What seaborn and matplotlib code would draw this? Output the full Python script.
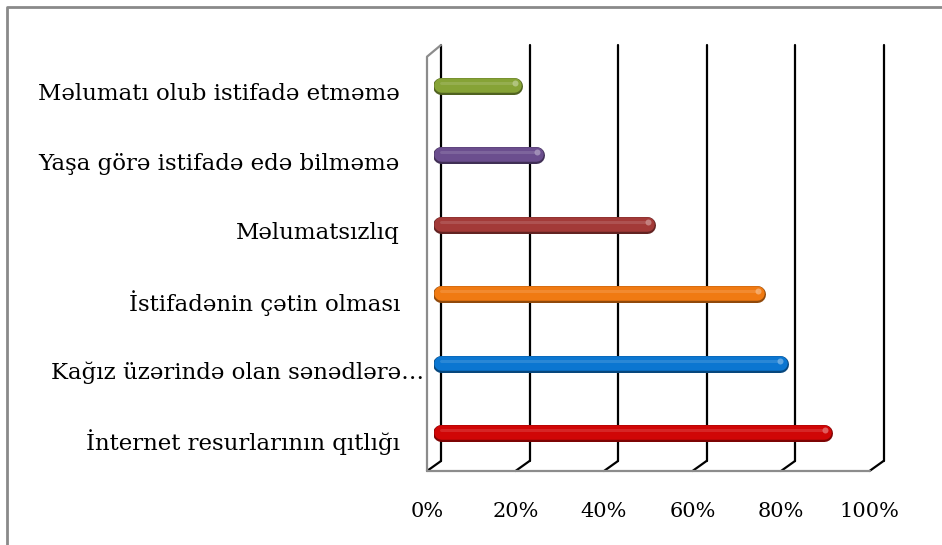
import matplotlib
matplotlib.use("Agg")
import matplotlib.pyplot as plt
import matplotlib.colors as mcolors
from matplotlib.lines import Line2D
from matplotlib.transforms import ScaledTranslation, blended_transform_factory
import pandas as pd
import seaborn as sns

# categories top to bottom, share of respondents (%)
categories = [
    "Məlumatı olub istifadə etməmə",
    "Yaşa görə istifadə edə bilməmə",
    "Məlumatsızlıq",
    "İstifadənin çətin olması",
    "Kağız üzərində olan sənədlərə…",
    "İnternet resurlarının qıtlığı",
]
values = [20, 25, 50, 75, 80, 90]
bar_colors = ["#86a336", "#6b4e8e", "#a33a38", "#f07a12", "#0b76d1", "#d00606"]
tick_values = [0, 20, 40, 60, 80, 100]
tick_labels = ["0%", "20%", "40%", "60%", "80%", "100%"]

df = pd.DataFrame({"category": categories, "value": values})

sns.set_style("white")
plt.rcParams["font.family"] = ["DejaVu Serif"]

W, H, DPI = 942, 545, 100
fig = plt.figure(figsize=(W / DPI, H / DPI), dpi=DPI)
# axes = middle depth plane of the pseudo-3D plot area
ax = fig.add_axes([434 / W, 1 - 461 / H, 442.5 / W, 416 / H])

sns.barplot(data=df, x="value", y="category", hue="category",
            palette=bar_colors, orient="h", width=0.245, legend=False, ax=ax)
ax.set_xlim(0, 100)
ax.set_ylim(5.4, -0.59)
ax.set_xlabel("")
ax.set_ylabel("")
for s in ax.spines.values():
    s.set_visible(False)

# turn the flat bars into rounded "tube" bars
px_per_unit = 442.5 / 100
r_px = 8.5
r = r_px / px_per_unit
pt = 72 / DPI
for patch, col in zip(ax.patches, bar_colors):
    x0 = patch.get_x() - 0.3
    x1 = patch.get_x() + patch.get_width()
    yc = patch.get_y() + patch.get_height() / 2
    patch.set_visible(False)
    rgb = mcolors.to_rgb(col)
    dark = tuple(c * 0.6 for c in rgb)
    light = tuple(c + (1 - c) * 0.5 for c in rgb)
    ax.plot([x0 + r, x1 - r], [yc, yc], color=dark, lw=17 * pt,
            solid_capstyle="round", zorder=3)
    up = ax.transData + ScaledTranslation(0, 1.0 / DPI, fig.dpi_scale_trans)
    ax.plot([x0 + r, x1 - r], [yc, yc], color=col, lw=14.5 * pt,
            solid_capstyle="round", zorder=4, transform=up)
    up2 = ax.transData + ScaledTranslation(0, 3 / DPI, fig.dpi_scale_trans)
    ax.plot([x0 + r, x1 - r * 1.2], [yc, yc], color=light, lw=3 * pt, alpha=0.25,
            solid_capstyle="round", zorder=5, transform=up2)
    ax.plot([x1 - r * 0.9], [yc], marker="o", ms=6 * pt, color=light,
            alpha=0.7, mec="none", zorder=6, transform=up2)

# walls and gridlines (pseudo 3D)
dx = 7 / px_per_unit          # half depth in data units
dy = 10 / 416                 # full depth drop in axes fraction
bt = blended_transform_factory(ax.transData, ax.transAxes)
for t in tick_values:
    ax.plot([t + dx, t + dx], [0, 1], color="black", lw=1.6, transform=bt,
            clip_on=False, zorder=1)
    ax.plot([t + dx, t - dx], [0, -dy], color="black", lw=1.6, transform=bt,
            clip_on=False, zorder=1)
# left side wall and floor front edge
ax.plot([-dx, -dx, dx], [-dy, 1 - dy * 1.17, 1], color="#8c8c8c", lw=1.6,
        transform=bt, clip_on=False, zorder=2)
ax.plot([-dx, 100 - dx], [-dy, -dy], color="#8c8c8c", lw=1.6,
        transform=bt, clip_on=False, zorder=2)

# tick labels on the front edge
ax.set_xticks(tick_values)
ax.set_xticklabels(tick_labels, fontsize=15, color="black")
ax.tick_params(axis="x", length=0, pad=29.5)
shift_x = ScaledTranslation(-7 / DPI, 0, fig.dpi_scale_trans)
for lab in ax.get_xticklabels():
    lab.set_transform(lab.get_transform() + shift_x)

ax.tick_params(axis="y", length=0, pad=24.5, labelsize=16.5, labelcolor="black")
for lab in ax.get_yticklabels():
    # truncated label runs a little further right, as in the original
    extra = 24 if lab.get_text().endswith("…") else 0
    shift_y = ScaledTranslation(extra / DPI, -6 / DPI, fig.dpi_scale_trans)
    lab.set_transform(lab.get_transform() + shift_y)

# chart area border (left and top edges visible)
fig.add_artist(Line2D([7 / W, 7 / W, 1.0], [0, 1 - 7 / H, 1 - 7 / H],
                      color="#8a8a8a", lw=2))

fig.savefig("out.png", dpi=DPI)
